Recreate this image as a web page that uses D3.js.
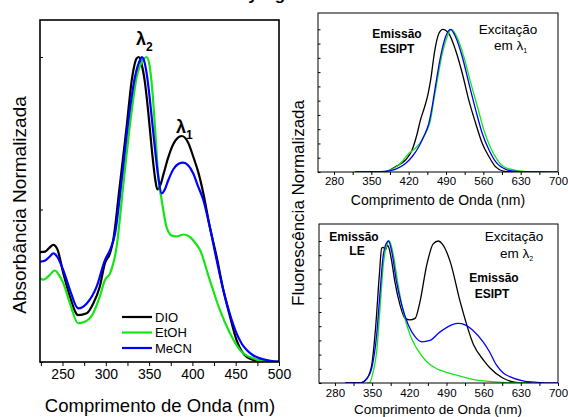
<!DOCTYPE html>
<html><head><meta charset="utf-8">
<script src="https://cdn.jsdelivr.net/npm/d3@7"></script>
<style>
body{margin:0;background:#fff;}
text{font-family:Arial,"Liberation Sans",sans-serif;}
</style></head>
<body><svg id="c" width="568" height="417"></svg>
<script>
// ---------- DATA ----------
const seriesNames = ["DIO","EtOH","MeCN"];
const seriesColors = ["#000000","#14e614","#0000ff"];

// Absorption (left panel)
const absDioNm = [224,230,235,239.4,244,251,258.6,268,278,285.5,293,299,304.8,308.6,316,324,330,335.7,338,341,345,349,353,357,359.5,363,367,372,378,383,387.6,395,401,407,412.6,420,428,435.7,443.4,451,457,462.7,470,478,490,500];
const absDio   = [0.36,0.362,0.375,0.384,0.37,0.29,0.214,0.154,0.16,0.192,0.247,0.324,0.356,0.40,0.575,0.77,0.925,0.996,1.0,0.98,0.92,0.82,0.70,0.60,0.566,0.58,0.62,0.67,0.715,0.735,0.741,0.72,0.673,0.62,0.553,0.444,0.345,0.236,0.149,0.072,0.035,0.017,0.007,0.003,0.001,0];
const absEtohNm = [224,228,235,241,246,251,258.6,268,275.7,285.5,293,299,304.8,312.5,320,328,335.7,343,347,350,354,357,360.6,364.5,370,376,381,390,397,402,408.8,420,431.8,443.4,455,470,485,500];
const absEtoh   = [0.274,0.27,0.285,0.30,0.285,0.258,0.192,0.127,0.132,0.16,0.214,0.269,0.29,0.378,0.575,0.78,0.935,0.99,1.0,0.98,0.88,0.76,0.607,0.531,0.444,0.415,0.412,0.418,0.41,0.395,0.367,0.269,0.17,0.094,0.039,0.012,0.003,0.001];
const absMecnNm = [224,230,235,239.4,244,251,258.6,268,278,289.4,299,304.8,310.6,318.3,326,333.7,339.5,341.4,344,348,352,356,360,364.5,368,372,378,384,389.5,395,401,406,412.6,420,428,435.7,443,451,457,462.7,470,478,490,500];
const absMecn   = [0.329,0.333,0.345,0.356,0.345,0.30,0.236,0.176,0.192,0.247,0.334,0.367,0.42,0.597,0.79,0.935,0.99,1.0,0.99,0.93,0.83,0.72,0.62,0.553,0.565,0.595,0.632,0.65,0.654,0.645,0.618,0.58,0.531,0.444,0.334,0.236,0.16,0.094,0.06,0.039,0.022,0.012,0.004,0.001];

// Fluorescence, excitation at lambda1 (top right)
const f1DioNm = [320,340,360,376,395,414,426.4,436,442,450,456.5,461,469,476.6,484,495.4,508,520.6,533,545.7,558,570.7,583,602,630,660];
const f1Dio   = [0,0.002,0.002,0.003,0.037,0.084,0.154,0.27,0.364,0.457,0.55,0.64,0.853,0.97,1.0,0.97,0.853,0.69,0.50,0.34,0.20,0.107,0.037,0.003,0.001,0];
const f1EtohNm = [320,350,376,393,407.6,420,432.7,445,454.7,461,467,473.6,483,492,500,510.6,523.6,536,549,561,574,586.5,605,640,680];
const f1Etoh   = [0,0.002,0.005,0.026,0.072,0.13,0.166,0.224,0.294,0.364,0.50,0.64,0.83,0.946,1.0,0.946,0.806,0.63,0.457,0.294,0.166,0.084,0.026,0.003,0];
const f1MecnNm = [320,350,376,395,414,426.4,439,448,457.7,464,470,479.7,489,498.6,508,520.6,533,545.7,558,570.7,583,602,621,660,700];
const f1Mecn   = [0,0.002,0.005,0.019,0.06,0.107,0.177,0.247,0.34,0.457,0.597,0.806,0.946,1.0,0.946,0.806,0.62,0.434,0.27,0.154,0.072,0.019,0.005,0.001,0];

// Fluorescence, excitation at lambda2 (bottom right)
const f2DioNm = [300,320,330,340,349,357,363.6,368,370.6,375.6,378.7,381,387,393,402.5,412,421,431,440,452.8,465,474.7,482,497,516,541,560,572,596,621,650];
const f2Dio   = [0,0,0.003,0.03,0.12,0.41,0.76,0.95,0.955,0.94,0.97,0.96,0.855,0.71,0.55,0.455,0.444,0.455,0.57,0.83,0.98,1.0,0.98,0.855,0.57,0.27,0.16,0.106,0.035,0.005,0];
const f2EtohNm = [340,346,352,358.6,365,371,377.5,382.4,390,399,408.8,421.4,434,452.8,471.6,490,509,547,597,640];
const f2Etoh   = [0,0.005,0.08,0.22,0.53,0.83,0.97,1.0,0.90,0.69,0.50,0.34,0.244,0.15,0.10,0.075,0.055,0.02,0.005,0];
const f2MecnNm = [299,327,340,349,358.6,365,371,378.7,381,387,396,405.7,418,430.8,443.4,459,478,500,512,525,540,559,571,584,597,609,634,660,700];
const f2Mecn   = [0,0,0.03,0.10,0.34,0.64,0.90,0.995,1.0,0.925,0.71,0.55,0.41,0.326,0.29,0.30,0.36,0.41,0.42,0.41,0.37,0.29,0.22,0.127,0.07,0.045,0.015,0.005,0];

const absXTicks = [225,250,275,300,325,350,375,400,425,450,475,500];
const absXLabels = [250,300,350,400,450,500];
const absYTicks = [0,0.5,1.0];
const flXTicks = [280,315,350,385,420,455,490,525,560,595,630,665,700];
const flXLabels = [280,350,420,490,560,630,700];
const flYTicks = [0,0.1,0.2,0.3,0.4,0.5,0.6,0.7,0.8,0.9,1.0];

// ---------- DRAW ----------
const svg = d3.select("#c");
svg.append("rect").attr("width",568).attr("height",417).attr("fill","#fff");

function zip(xs, ys){ return xs.map((x,i)=>[x, ys[i]]); }

function panel(cfg){
  const g = svg.append("g");
  const x = d3.scaleLinear().domain(cfg.xd).range([cfg.x0, cfg.x1]);
  const y = d3.scaleLinear().domain([0,1]).range([cfg.yb, cfg.y1]);
  const id = "clip"+cfg.id;
  svg.append("clipPath").attr("id",id).append("rect")
    .attr("x",cfg.x0).attr("y",cfg.yt).attr("width",cfg.x1-cfg.x0).attr("height",cfg.yb-cfg.yt);
  const line = d3.line().x(d=>x(d[0])).y(d=>y(d[1])).curve(d3.curveMonotoneX);
  const cg = g.append("g").attr("clip-path","url(#"+id+")");
  cfg.series.forEach(s=>{
    cg.append("path").attr("d", line(s.data)).attr("fill","none")
      .attr("stroke", s.color).attr("stroke-width", cfg.lw).attr("stroke-linejoin","round");
  });
  const xa = d3.axisBottom(x).tickValues(cfg.xticks).tickSize(cfg.xtl).tickPadding(2)
    .tickFormat(d => cfg.xlabels.includes(d) ? String(d) : "");
  const xg = g.append("g").attr("transform","translate(0,"+cfg.yb+")").call(xa);
  xg.select(".domain").remove();
  xg.selectAll("line").attr("stroke","#000").attr("stroke-width",1);
  xg.selectAll("text").attr("font-size",cfg.tfs).attr("fill","#000")
    .attr("font-family","Arial, 'Liberation Sans', sans-serif").attr("y",cfg.tly);
  const ya = d3.axisLeft(y).tickValues(cfg.yticks).tickSize(-cfg.ytl).tickFormat("");
  const yg = g.append("g").attr("transform","translate("+cfg.x0+",0)").call(ya);
  yg.select(".domain").remove();
  yg.selectAll("line").attr("stroke","#000").attr("stroke-width",1);
  g.append("rect").attr("x",cfg.x0).attr("y",cfg.yt).attr("width",cfg.x1-cfg.x0).attr("height",cfg.yb-cfg.yt)
    .attr("fill","none").attr("stroke","#000").attr("stroke-width",cfg.fw);
  return {x,y};
}

panel({id:"a", xd:[224,500], x0:40, x1:279, yb:362, y1:57, yt:20,
  xticks:absXTicks, xlabels:absXLabels, yticks:absYTicks, xtl:4, ytl:3, tfs:"14px", tly:7, lw:2.2, fw:1.6,
  series:[
    {data:zip(absDioNm,absDio), color:seriesColors[0]},
    {data:zip(absEtohNm,absEtoh), color:seriesColors[1]},
    {data:zip(absMecnNm,absMecn), color:seriesColors[2]}
  ]});

panel({id:"b", xd:[250,700], x0:318, x1:558, yb:172, y1:29.3, yt:13,
  xticks:flXTicks, xlabels:flXLabels, yticks:flYTicks, xtl:3, ytl:2.5, tfs:"11.5px", tly:5, lw:1.3, fw:1,
  series:[
    {data:zip(f1DioNm,f1Dio), color:seriesColors[0]},
    {data:zip(f1EtohNm,f1Etoh), color:seriesColors[1]},
    {data:zip(f1MecnNm,f1Mecn), color:seriesColors[2]}
  ]});

panel({id:"c2", xd:[250,700], x0:319, x1:558, yb:383, y1:241, yt:224,
  xticks:flXTicks, xlabels:flXLabels, yticks:flYTicks, xtl:3, ytl:2.5, tfs:"11.5px", tly:6, lw:1.3, fw:1,
  series:[
    {data:zip(f2DioNm,f2Dio), color:seriesColors[0]},
    {data:zip(f2EtohNm,f2Etoh), color:seriesColors[1]},
    {data:zip(f2MecnNm,f2Mecn), color:seriesColors[2]}
  ]});

// Axis titles
svg.append("text").attr("x",160).attr("y",412).attr("text-anchor","middle").attr("font-size","18.5px").text("Comprimento de Onda (nm)");
svg.append("text").attr("transform","translate(26,205) rotate(-90)").attr("text-anchor","middle").attr("font-size","19px").text("Absorbância Normalizada");
svg.append("text").attr("x",438).attr("y",205).attr("text-anchor","middle").attr("font-size","14px").text("Comprimento de Onda (nm)");
svg.append("text").attr("x",438).attr("y",413.5).attr("text-anchor","middle").attr("font-size","13.5px").text("Comprimento de Onda (nm)");
svg.append("text").attr("transform","translate(304,203) rotate(-90)").attr("text-anchor","middle").attr("font-size","17px").text("Fluorescência Normalizada");

// Title remnant at top (cut off in the source figure)
svg.append("text").attr("x",253).attr("y",0).attr("text-anchor","middle").attr("font-size","17px").attr("font-weight","bold").text("y");
svg.append("text").attr("x",280).attr("y",0).attr("text-anchor","middle").attr("font-size","17px").attr("font-weight","bold").text("g");

// Legend
const lg = svg.append("g");
seriesNames.forEach((n,i)=>{
  const yy = 317 + i*15.5;
  lg.append("line").attr("x1",122).attr("x2",152).attr("y1",yy).attr("y2",yy).attr("stroke",seriesColors[i]).attr("stroke-width",2.2);
  lg.append("text").attr("x",155).attr("y",yy+4.7).attr("font-size","13px").text(n);
});

function lam(x,y,sub,fs,sfs,bold,dy){
  const t = svg.append("text").attr("x",x).attr("y",y).attr("font-size",fs);
  if(bold) t.attr("font-weight","bold");
  t.append("tspan").text("λ");
  t.append("tspan").attr("font-size",sfs).attr("dy",dy).text(sub);
  return t;
}
lam(136,45,"2","18px","12px",true,6);
lam(176,133,"1","18px","12px",true,6);

function txt(x,y,s,fs,bold){
  const t = svg.append("text").attr("x",x).attr("y",y).attr("text-anchor","middle").attr("font-size",fs).text(s);
  if(bold) t.attr("font-weight","bold");
  return t;
}
txt(397,37.5,"Emissão","12px",true);
txt(397,53,"ESIPT","12px",true);
txt(508,34,"Excitação","13.5px",false);
{
  const t = svg.append("text").attr("x",494).attr("y",50).attr("font-size","13.5px");
  t.append("tspan").text("em λ");
  t.append("tspan").attr("font-size","7px").attr("dy",3).text("1");
}
txt(354,241,"Emissão","12px",true);
txt(357,255,"LE","12px",true);
txt(514,241,"Excitação","13.5px",false);
{
  const t = svg.append("text").attr("x",500).attr("y",258).attr("font-size","13.5px");
  t.append("tspan").text("em λ");
  t.append("tspan").attr("font-size","7px").attr("dy",3).text("2");
}
txt(494,282,"Emissão","12px",true);
txt(492,298,"ESIPT","12px",true);
</script>
</body></html>
